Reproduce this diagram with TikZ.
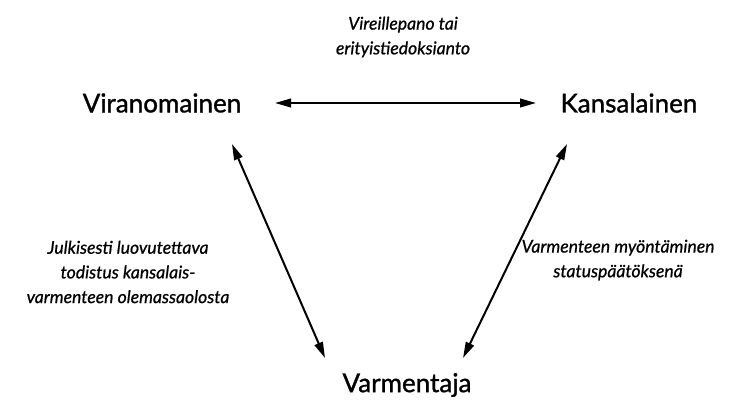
\documentclass[tikz,border=0pt]{standalone}
\usepackage{fontspec}
\setmainfont{Lato}
\newfontfamily\partyfont{Lato}[FakeBold=1.2]
\newfontfamily\notefont{Lato}[ItalicFeatures={FakeBold=0.8}]
\usepackage{tikz}
\usetikzlibrary{arrows.meta, positioning}

\begin{document}
\begin{tikzpicture}[x=0.75pt,y=0.75pt,
        party/.style={font=\partyfont\fontsize{19.5}{22}\selectfont},
        note/.style={font=\notefont\itshape\fontsize{13.2}{18.5}\selectfont, align=center},
        link/.style={{Triangle[length=12pt,width=6.5pt]}-{Triangle[length=12pt,width=6.5pt]}, line width=1.5pt}]
        \useasboundingbox (0,0) rectangle (741,412);

        % Draw the three parties
        \node[party] (vir) at (162,309) {Viranomainen};
        \node[party] (kan) at (629,309) {Kansalainen};
        \node[party] (var) at (407,27) {Varmentaja};

        % Arrow ends near the parties
        \coordinate (virE) at (275,309);
        \coordinate (kanW) at (536,309);
        \coordinate (virL) at (232,268);
        \coordinate (varL) at (325,54);
        \coordinate (kanR) at (567,268);
        \coordinate (varR) at (463,54);

        % Draw arrows between parties
        \draw[link] (virE) -- (kanW);
        \draw[link] (virL) -- (varL);
        \draw[link] (kanR) -- (varR);

        % Arrow labels
        \node[note] (top) at (403,375) {Vireillepano tai\\erityistiedoksianto};
        \node[note] (left) at (128,140) {Julkisesti luovutettava\\todistus kansalais-\\varmenteen olemassaolosta};
        \node[note] (right) at (618,152) {Varmenteen myöntäminen\\statuspäätöksenä};
    \end{tikzpicture}
\end{document}
